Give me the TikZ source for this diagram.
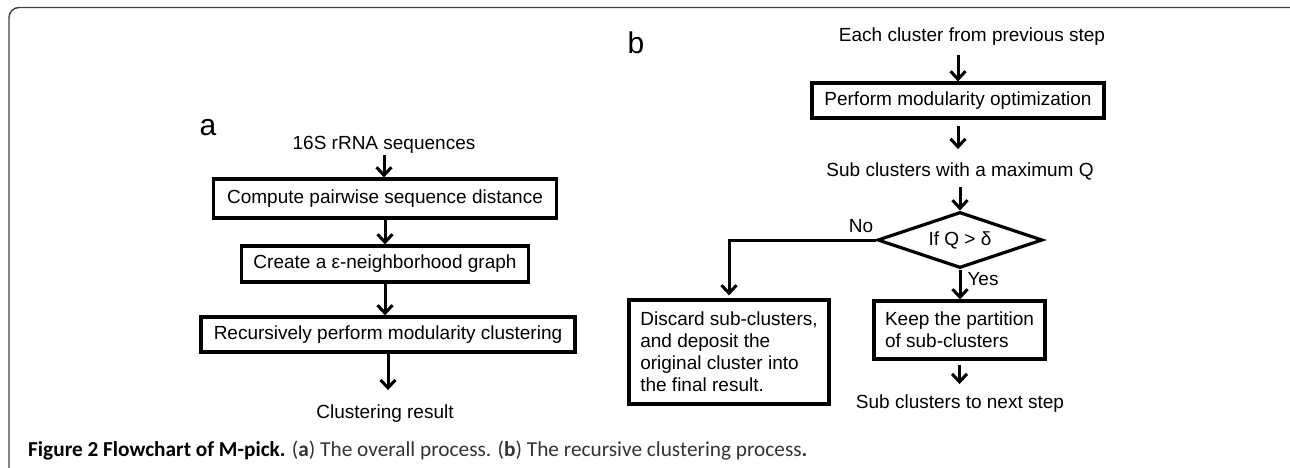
\documentclass[tikz,border=0pt]{standalone}
\usepackage{fontspec}
\setmainfont{Liberation Sans}
\newfontfamily\capfont{Carlito}
\usetikzlibrary{arrows.meta,shapes.geometric}

\begin{document}
\begin{tikzpicture}[x=1pt,y=-1pt,
  every node/.style={font=\fontsize{19}{22}\selectfont,inner sep=2pt},
  box/.style={draw,line width=3.2pt},
  txt/.style={anchor=base},
  panel/.style={anchor=base,font=\fontsize{30}{30}\selectfont},
  arr/.style={line width=3pt,-{Straight Barb[length=8pt,width=15pt]}}]
  \useasboundingbox (0,0) rectangle (1290,467);
  \draw[black!75,line width=1.4pt,rounded corners=10pt] (9,490) -- (9,7.5) -- (1300,7.5) -- (1300,60);

  \node[panel] (lbla) at (208,135) {a};
  \node[txt] (seqs) at (384,149) {16S rRNA sequences};
  \node[box,minimum width=343,minimum height=39] (compute) at (385,198.5) {Compute pairwise sequence distance};
  \node[box,minimum width=287,minimum height=36] (graph) at (385,264) {Create a ε-neighborhood graph};
  \node[box,minimum width=374,minimum height=35] (modclust) at (388,334.5) {Recursively perform modularity clustering};
  \node[txt] (result) at (385,418) {Clustering result};

  \draw[arr] (seqs) -- (seqs |- compute.north);
  \draw[arr] (compute) -- (graph);
  \draw[arr] (graph) -- (graph |- modclust.north);
  \draw[arr,shorten >=12pt] (modclust) -- (modclust |- result.north);

  \node[panel] (lblb) at (636,53) {b};
  \node[txt] (prev) at (972,41) {Each cluster from previous step};
  \node[box,minimum width=292,minimum height=35] (optim) at (958,100.5) {Perform modularity optimization};
  \node[txt] (subq) at (960,176) {Sub clusters with a maximum Q};
  \node[box,diamond,aspect=3,inner sep=0pt,minimum width=165,minimum height=56] (decide) at (960,240) {If Q > δ};
  \node[box,align=left,minimum width=200,minimum height=104] (discard) at (729,352)
    {Discard sub-clusters,\\and deposit the\\original cluster into\\the final result.};
  \node[box,align=left,minimum width=171,minimum height=58] (keep) at (959.5,330)
    {Keep the partition\\of sub-clusters};
  \node[txt] (next) at (960,408) {Sub clusters to next step};
  \node[txt] (no) at (861,232) {No};
  \node[txt] (yes) at (983,285) {Yes};

  \draw[arr,shorten <=8pt] (optim |- prev.south) -- (optim.north);
  \draw[arr,shorten <=6pt,shorten >=11pt] (optim) -- (optim |- subq.north);
  \draw[arr,shorten <=5pt] (subq) -- (decide);
  \draw[arr,shorten >=3pt] (decide.west) -| (discard.north);
  \draw[arr] (decide) -- (decide |- keep.north);
  \draw[arr,shorten <=4pt,shorten >=8pt] (keep) -- (keep |- next.north);

  \node[anchor=base west,text=black!80,font=\capfont\fontsize{21.3}{25}\selectfont] (caption) at (26,456)
    {\textbf{\color{black}Figure 2 Flowchart of M-pick.} (\textbf{a}) The overall process. (\textbf{b}) The recursive clustering process\textbf{.}};
\end{tikzpicture}
\end{document}
